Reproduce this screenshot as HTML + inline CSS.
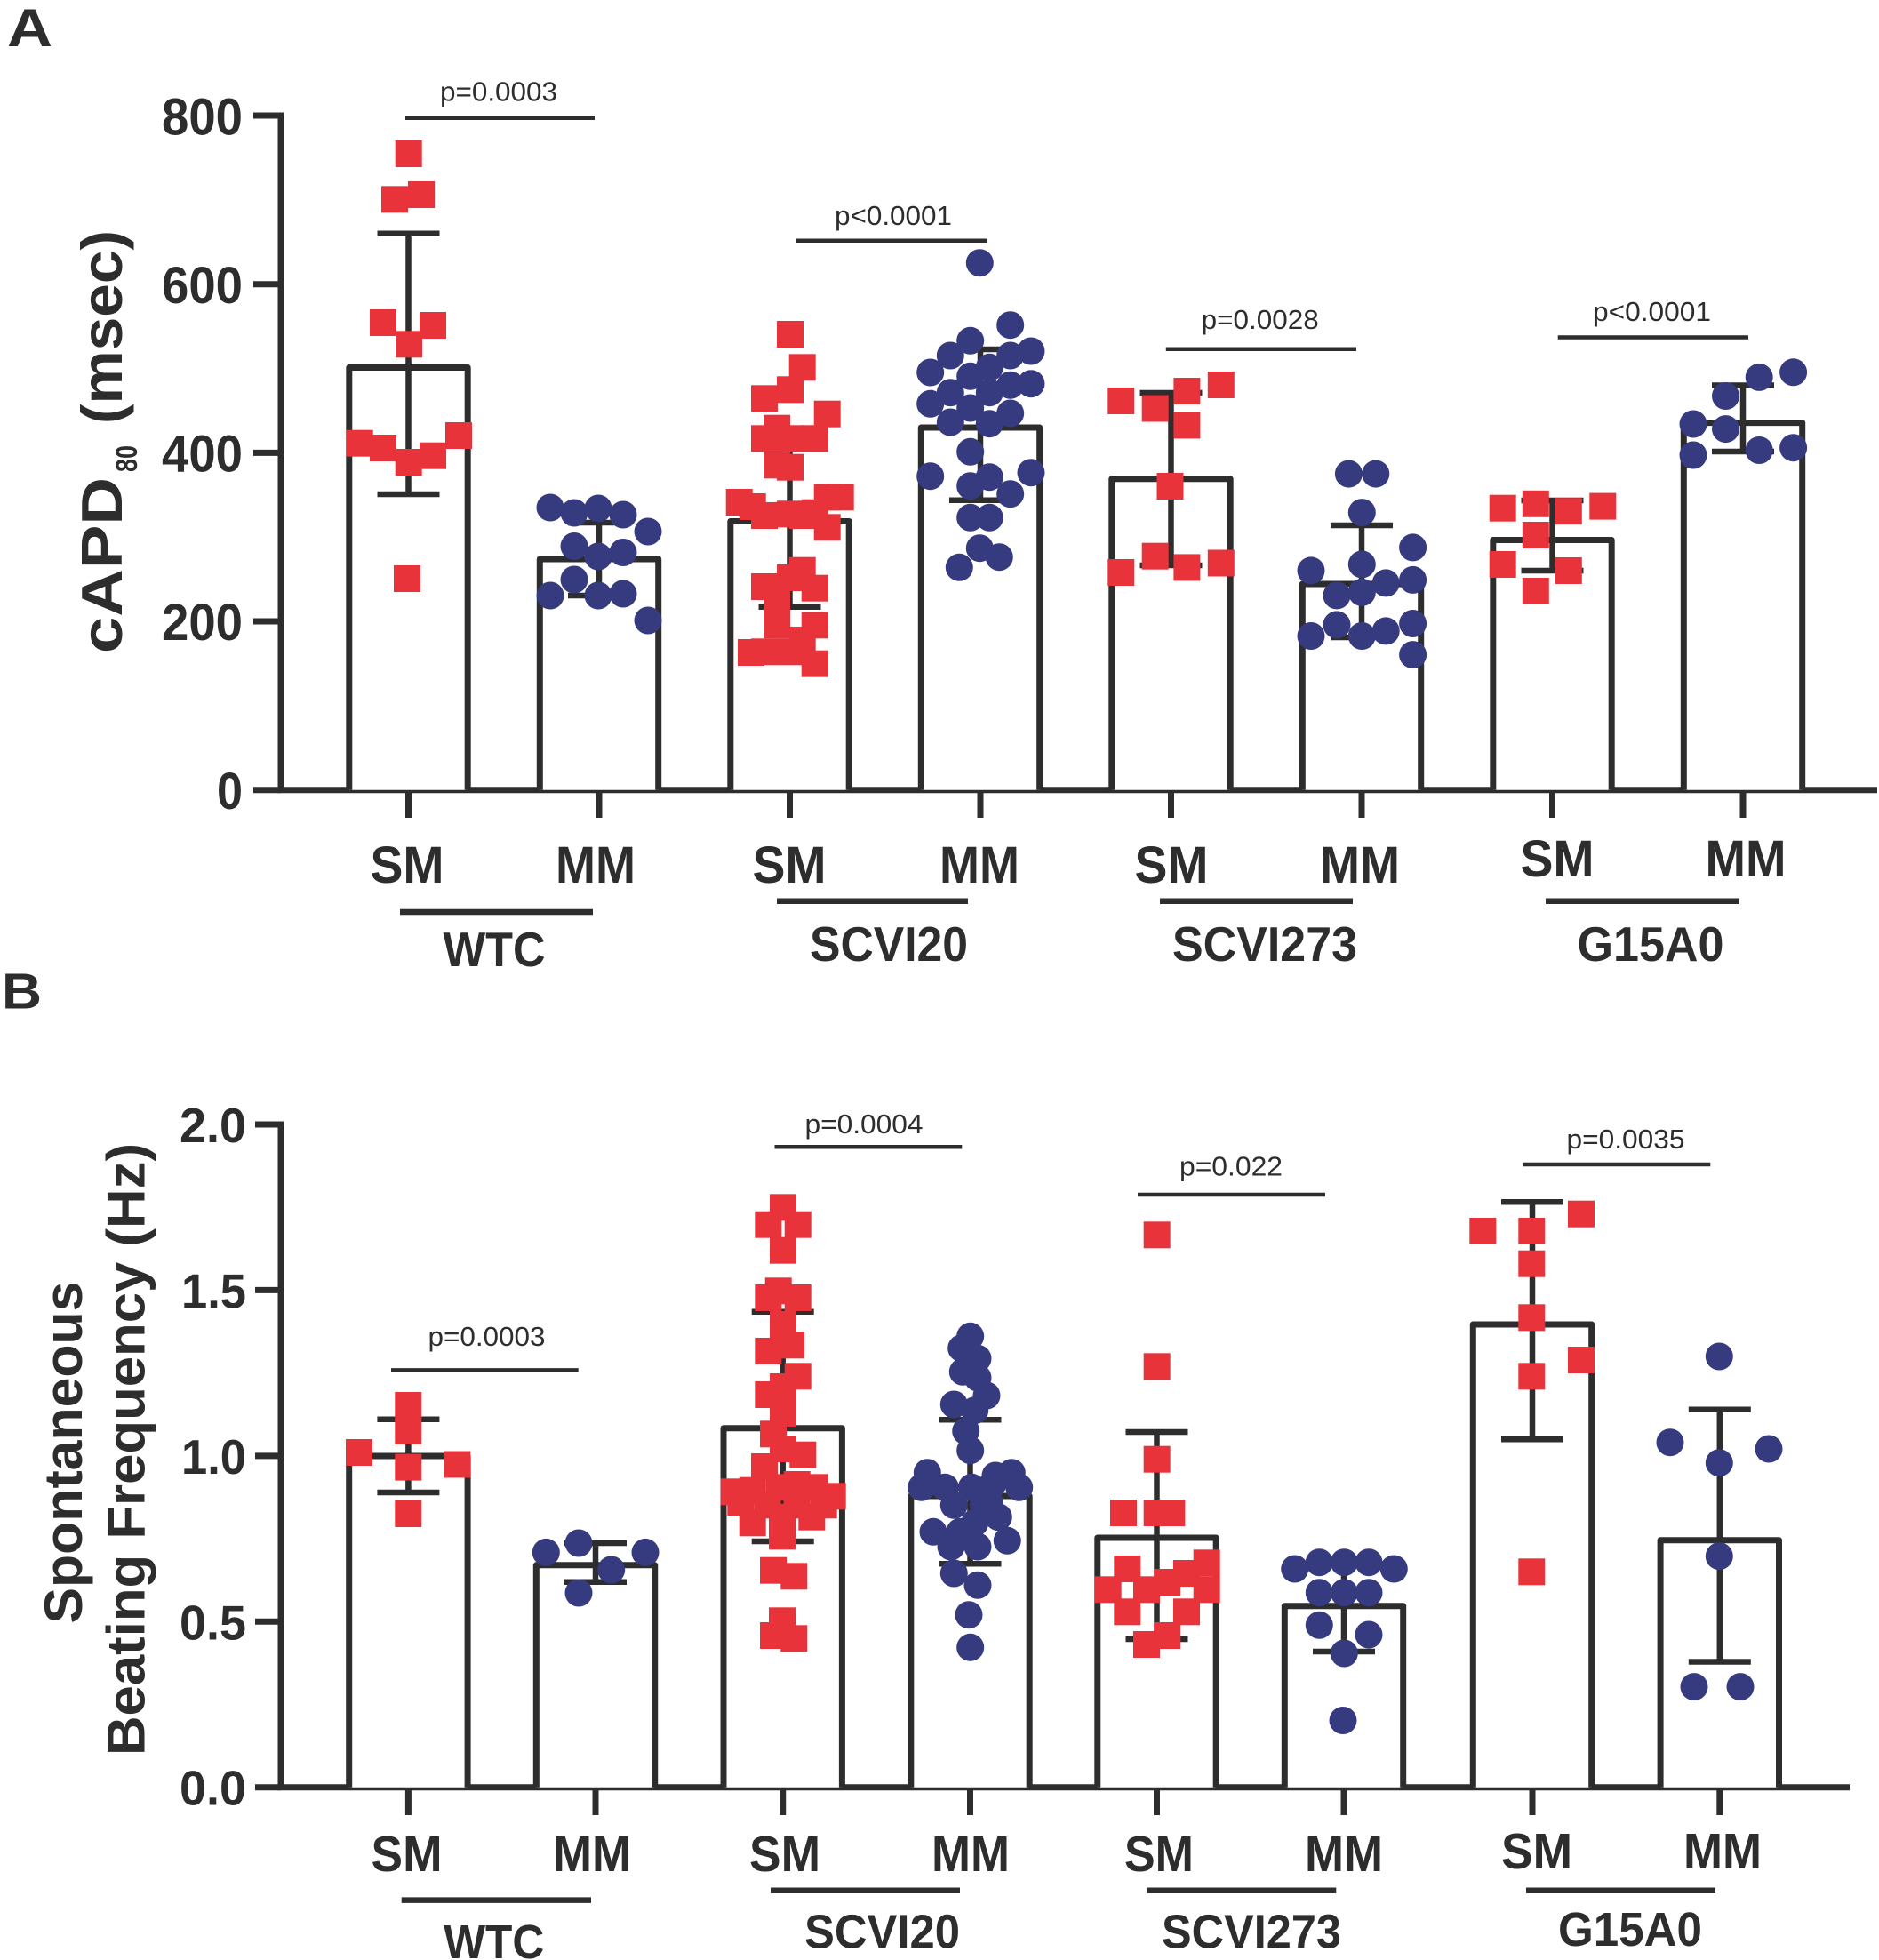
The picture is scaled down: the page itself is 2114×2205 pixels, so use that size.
<!DOCTYPE html>
<html><head><meta charset="utf-8"><style>
html,body{margin:0;padding:0;background:#fff;}
svg{display:block;}
.t{font-family:"Liberation Sans",Arial,sans-serif;font-weight:bold;fill:#2d2d2d;}
.p{font-family:"Liberation Sans",Arial,sans-serif;font-weight:normal;fill:#2d2d2d;font-size:31px;}
</style></head><body>
<svg width="2114" height="2205" viewBox="0 0 2114 2205" xmlns="http://www.w3.org/2000/svg">
<defs>
<rect id="s" x="-15" y="-15" width="30" height="30" fill="#e8333a"/>
<circle id="c" r="15.5" fill="#363a7e"/>
</defs>
<rect width="2114" height="2205" fill="#fff"/>

<!-- ================= PANEL A ================= -->
<text class="t" x="8" y="52" font-size="60" textLength="51" lengthAdjust="spacingAndGlyphs">A</text>

<g stroke="#2d2d2d" stroke-width="7" fill="none">
<line x1="316" y1="126.5" x2="316" y2="892"/>
<line x1="285" y1="130" x2="316" y2="130"/>
<line x1="285" y1="319.7" x2="316" y2="319.7"/>
<line x1="285" y1="509.4" x2="316" y2="509.4"/>
<line x1="285" y1="699" x2="316" y2="699"/>
<line x1="285" y1="888.7" x2="316" y2="888.7"/>
<line x1="312.5" y1="888.7" x2="2112" y2="888.7"/>
<line x1="459.5" y1="888" x2="459.5" y2="920"/>
<line x1="674" y1="888" x2="674" y2="920"/>
<line x1="888.5" y1="888" x2="888.5" y2="920"/>
<line x1="1103" y1="888" x2="1103" y2="920"/>
<line x1="1317.5" y1="888" x2="1317.5" y2="920"/>
<line x1="1532" y1="888" x2="1532" y2="920"/>
<line x1="1746.5" y1="888" x2="1746.5" y2="920"/>
<line x1="1961" y1="888" x2="1961" y2="920"/>
</g>

<g stroke="#2d2d2d" stroke-width="7" fill="#fff" stroke-linejoin="round">
<path d="M392.8 888.7 V413.5 H526.2 V888.7"/>
<path d="M607.3 888.7 V629 H740.7 V888.7"/>
<path d="M821.8 888.7 V586.5 H955.2 V888.7"/>
<path d="M1036.3 888.7 V481 H1169.7 V888.7"/>
<path d="M1250.8 888.7 V538.8 H1384.2 V888.7"/>
<path d="M1465.3 888.7 V657 H1598.7 V888.7"/>
<path d="M1679.8 888.7 V607.5 H1813.2 V888.7"/>
<path d="M1894.3 888.7 V475.6 H2027.7 V888.7"/>
</g>
<g stroke="#2d2d2d" stroke-width="6.5" fill="none">
<path d="M459.5 262.7 V556 M424.5 262.7 H494.5 M424.5 556 H494.5"/>
<path d="M674 588 V670 M639 588 H709 M639 670 H709"/>
<path d="M888.5 487 V682.7 M853.5 487 H923.5 M853.5 682.7 H923.5"/>
<path d="M1103 393 V562.7 M1068 393 H1138 M1068 562.7 H1138"/>
<path d="M1317.5 442 V636 M1282.5 442 H1352.5 M1282.5 636 H1352.5"/>
<path d="M1532 591 V717 M1497 591 H1567 M1497 717 H1567"/>
<path d="M1746.5 563 V642 M1711.5 563 H1781.5 M1711.5 642 H1781.5"/>
<path d="M1961 433.5 V508 M1926 433.5 H1996 M1926 508 H1996"/>
</g>

<g>
<use href="#s" x="459.7" y="173"/><use href="#s" x="444" y="224.3"/><use href="#s" x="474" y="219"/>
<use href="#s" x="431" y="363"/><use href="#s" x="487" y="366"/><use href="#s" x="460" y="387.3"/>
<use href="#s" x="404.7" y="498.7"/><use href="#s" x="431" y="504"/><use href="#s" x="459.7" y="520"/>
<use href="#s" x="487" y="512.7"/><use href="#s" x="516" y="490"/><use href="#s" x="458" y="651"/>

<use href="#c" x="619" y="571"/><use href="#c" x="646" y="577"/><use href="#c" x="673" y="572"/>
<use href="#c" x="701" y="579"/><use href="#c" x="729" y="598"/><use href="#c" x="646" y="614.5"/>
<use href="#c" x="673" y="626"/><use href="#c" x="701" y="621.5"/><use href="#c" x="619" y="670"/>
<use href="#c" x="646" y="652"/><use href="#c" x="673" y="670"/><use href="#c" x="701" y="668"/>
<use href="#c" x="729" y="698"/>

<use href="#s" x="889" y="376"/><use href="#s" x="902.7" y="413.3"/><use href="#s" x="889" y="438.3"/>
<use href="#s" x="860" y="448.3"/><use href="#s" x="930.7" y="465.7"/><use href="#s" x="874" y="481.7"/>
<use href="#s" x="860" y="493.3"/><use href="#s" x="916.7" y="493.3"/><use href="#s" x="889" y="493.3"/>
<use href="#s" x="874" y="523.3"/><use href="#s" x="889" y="525.7"/><use href="#s" x="831.7" y="565"/>
<use href="#s" x="860" y="580"/><use href="#s" x="889" y="578.3"/><use href="#s" x="916.7" y="576.7"/>
<use href="#s" x="930.7" y="559.3"/><use href="#s" x="945.7" y="559.3"/><use href="#s" x="930.7" y="593.3"/>
<use href="#s" x="902.7" y="580"/><use href="#s" x="846.7" y="570"/>
<use href="#s" x="902.7" y="641.7"/><use href="#s" x="860" y="660"/><use href="#s" x="916.7" y="661.7"/>
<use href="#s" x="889" y="650"/><use href="#s" x="874" y="703.3"/><use href="#s" x="916.7" y="703.3"/>
<use href="#s" x="860" y="733.3"/><use href="#s" x="889" y="733.3"/><use href="#s" x="916.7" y="746.7"/>
<use href="#s" x="902.7" y="720"/><use href="#s" x="874" y="676.7"/><use href="#s" x="845" y="734"/>

<use href="#c" x="1102.3" y="295.7"/><use href="#c" x="1136.7" y="365.7"/><use href="#c" x="1091.7" y="383.3"/>
<use href="#c" x="1160" y="395"/><use href="#c" x="1069.3" y="400"/><use href="#c" x="1136.7" y="400"/>
<use href="#c" x="1046.7" y="419"/><use href="#c" x="1091.7" y="423.3"/><use href="#c" x="1113.3" y="413.3"/>
<use href="#c" x="1160" y="431.7"/><use href="#c" x="1069.3" y="441.7"/><use href="#c" x="1113.3" y="441.7"/>
<use href="#c" x="1136.7" y="433.3"/><use href="#c" x="1046.7" y="454.3"/><use href="#c" x="1091.7" y="459"/>
<use href="#c" x="1136.7" y="465"/><use href="#c" x="1069.3" y="475"/><use href="#c" x="1113.3" y="476.7"/>
<use href="#c" x="1091.7" y="508.3"/><use href="#c" x="1046.7" y="535.7"/><use href="#c" x="1160" y="531.7"/>
<use href="#c" x="1113.3" y="536.7"/><use href="#c" x="1091.7" y="546.7"/><use href="#c" x="1136.7" y="555.7"/>
<use href="#c" x="1091.7" y="582.3"/><use href="#c" x="1113.3" y="582.3"/><use href="#c" x="1102.3" y="616.7"/>
<use href="#c" x="1124.3" y="626.7"/><use href="#c" x="1079.3" y="638.3"/>

<use href="#s" x="1261.3" y="451"/><use href="#s" x="1299.7" y="459.5"/><use href="#s" x="1335.4" y="440"/>
<use href="#s" x="1373.8" y="433"/><use href="#s" x="1335.4" y="478.4"/><use href="#s" x="1316.5" y="547"/>
<use href="#s" x="1261.3" y="644"/><use href="#s" x="1299.7" y="625.7"/><use href="#s" x="1335.4" y="638.4"/>
<use href="#s" x="1373.8" y="633.5"/>

<use href="#c" x="1517.4" y="533.1"/><use href="#c" x="1547.8" y="533.1"/><use href="#c" x="1532.3" y="576.6"/>
<use href="#c" x="1475" y="641.9"/><use href="#c" x="1532.3" y="634.9"/><use href="#c" x="1589.6" y="615.9"/>
<use href="#c" x="1504" y="669.9"/><use href="#c" x="1559.2" y="655.9"/><use href="#c" x="1589.6" y="652.4"/>
<use href="#c" x="1532.3" y="666.4"/><use href="#c" x="1475" y="715.5"/><use href="#c" x="1504" y="702.9"/>
<use href="#c" x="1532.3" y="715.5"/><use href="#c" x="1559.2" y="709.9"/><use href="#c" x="1589.6" y="701.5"/>
<use href="#c" x="1589.6" y="736.6"/>

<use href="#s" x="1690.7" y="571.7"/><use href="#s" x="1727.8" y="566.8"/><use href="#s" x="1764.8" y="575.2"/>
<use href="#s" x="1803.3" y="569.6"/><use href="#s" x="1727.8" y="602"/><use href="#s" x="1690.7" y="635"/>
<use href="#s" x="1764.8" y="642"/><use href="#s" x="1727.8" y="665"/>

<use href="#c" x="1941.5" y="445.5"/><use href="#c" x="1979.2" y="424.4"/><use href="#c" x="2017.6" y="418.8"/>
<use href="#c" x="1905" y="477"/><use href="#c" x="1941.5" y="482.6"/><use href="#c" x="1905" y="512"/>
<use href="#c" x="1979.2" y="506.5"/><use href="#c" x="2017.6" y="503.7"/>
</g>

<g stroke="#2d2d2d" stroke-width="4.5">
<line x1="456" y1="132.7" x2="669" y2="132.7"/>
<line x1="896" y1="270.7" x2="1110.7" y2="270.7"/>
<line x1="1311.8" y1="392.8" x2="1526" y2="392.8"/>
<line x1="1752.7" y1="379.5" x2="1967" y2="379.5"/>
</g>
<text class="p" x="561" y="113.5" text-anchor="middle" textLength="132" lengthAdjust="spacingAndGlyphs">p=0.0003</text>
<text class="p" x="1005" y="253" text-anchor="middle" textLength="132" lengthAdjust="spacingAndGlyphs">p&lt;0.0001</text>
<text class="p" x="1417.7" y="370" text-anchor="middle" textLength="132" lengthAdjust="spacingAndGlyphs">p=0.0028</text>
<text class="p" x="1858.5" y="361" text-anchor="middle" textLength="133" lengthAdjust="spacingAndGlyphs">p&lt;0.0001</text>

<g class="t" font-size="58" text-anchor="end">
<text x="273" y="151.5" textLength="91" lengthAdjust="spacingAndGlyphs">800</text>
<text x="273" y="341" textLength="91" lengthAdjust="spacingAndGlyphs">600</text>
<text x="273" y="530.5" textLength="91" lengthAdjust="spacingAndGlyphs">400</text>
<text x="273" y="720" textLength="91" lengthAdjust="spacingAndGlyphs">200</text>
<text x="273" y="910" textLength="29" lengthAdjust="spacingAndGlyphs">0</text>
</g>

<g class="t" transform="rotate(-90)">
<text x="-735" y="137" font-size="65" textLength="198" lengthAdjust="spacingAndGlyphs">cAPD</text>
<text x="-531" y="154" font-size="34" textLength="30" lengthAdjust="spacingAndGlyphs">80</text>
<text x="-477" y="137" font-size="65" textLength="218" lengthAdjust="spacingAndGlyphs">(msec)</text>
</g>

<g class="t" font-size="58" text-anchor="middle">
<text x="458" y="993" textLength="83" lengthAdjust="spacingAndGlyphs">SM</text>
<text x="670" y="993" textLength="90" lengthAdjust="spacingAndGlyphs">MM</text>
<text x="888" y="993" textLength="83" lengthAdjust="spacingAndGlyphs">SM</text>
<text x="1102" y="993" textLength="90" lengthAdjust="spacingAndGlyphs">MM</text>
<text x="1318" y="993" textLength="83" lengthAdjust="spacingAndGlyphs">SM</text>
<text x="1530" y="993" textLength="90" lengthAdjust="spacingAndGlyphs">MM</text>
<text x="1752" y="986" textLength="83" lengthAdjust="spacingAndGlyphs">SM</text>
<text x="1964" y="986" textLength="91" lengthAdjust="spacingAndGlyphs">MM</text>
</g>
<g stroke="#2d2d2d" stroke-width="6.5">
<line x1="450" y1="1026" x2="667" y2="1026"/>
<line x1="874" y1="1013.7" x2="1089" y2="1013.7"/>
<line x1="1305" y1="1013.7" x2="1522" y2="1013.7"/>
<line x1="1739" y1="1013.7" x2="1957" y2="1013.7"/>
</g>
<g class="t" font-size="55" text-anchor="middle">
<text x="556" y="1087" textLength="115" lengthAdjust="spacingAndGlyphs">WTC</text>
<text x="1000" y="1081" textLength="178" lengthAdjust="spacingAndGlyphs">SCVI20</text>
<text x="1423" y="1081" textLength="208" lengthAdjust="spacingAndGlyphs">SCVI273</text>
<text x="1857" y="1081" textLength="165" lengthAdjust="spacingAndGlyphs">G15A0</text>
</g>

<!-- ================= PANEL B ================= -->
<text class="t" x="2" y="1134.6" font-size="57" textLength="45" lengthAdjust="spacingAndGlyphs">B</text>

<g stroke="#2d2d2d" stroke-width="7" fill="none">
<line x1="316" y1="1261.5" x2="316" y2="2014"/>
<line x1="287" y1="1265" x2="316" y2="1265"/>
<line x1="287" y1="1451.4" x2="316" y2="1451.4"/>
<line x1="287" y1="1637.9" x2="316" y2="1637.9"/>
<line x1="287" y1="1824.3" x2="316" y2="1824.3"/>
<line x1="287" y1="2010.7" x2="316" y2="2010.7"/>
<line x1="312.5" y1="2010.7" x2="2081" y2="2010.7"/>
<line x1="459.4" y1="2010" x2="459.4" y2="2042"/>
<line x1="670" y1="2010" x2="670" y2="2042"/>
<line x1="880.7" y1="2010" x2="880.7" y2="2042"/>
<line x1="1091.5" y1="2010" x2="1091.5" y2="2042"/>
<line x1="1301.5" y1="2010" x2="1301.5" y2="2042"/>
<line x1="1512" y1="2010" x2="1512" y2="2042"/>
<line x1="1724" y1="2010" x2="1724" y2="2042"/>
<line x1="1934.8" y1="2010" x2="1934.8" y2="2042"/>
</g>

<g stroke="#2d2d2d" stroke-width="7" fill="#fff" stroke-linejoin="round">
<path d="M392.7 2010.7 V1638 H526.1 V2010.7"/>
<path d="M603.3 2010.7 V1760.8 H736.7 V2010.7"/>
<path d="M814 2010.7 V1606.7 H947.4 V2010.7"/>
<path d="M1024.8 2010.7 V1683 H1158.2 V2010.7"/>
<path d="M1234.8 2010.7 V1730 H1368.2 V2010.7"/>
<path d="M1445.3 2010.7 V1806.7 H1578.7 V2010.7"/>
<path d="M1657.3 2010.7 V1490 H1790.7 V2010.7"/>
<path d="M1868.1 2010.7 V1732.7 H2001.5 V2010.7"/>
</g>
<g stroke="#2d2d2d" stroke-width="6.5" fill="none">
<path d="M459.4 1596.7 V1679 M424.4 1596.7 H494.4 M424.4 1679 H494.4"/>
<path d="M670 1736 V1779.7 M635 1736 H705 M635 1779.7 H705"/>
<path d="M880.7 1475.7 V1734 M845.7 1475.7 H915.7 M845.7 1734 H915.7"/>
<path d="M1091.5 1597.3 V1759.3 M1056.5 1597.3 H1126.5 M1056.5 1759.3 H1126.5"/>
<path d="M1301.5 1611 V1844 M1266.5 1611 H1336.5 M1266.5 1844 H1336.5"/>
<path d="M1512 1755 V1858 M1477 1755 H1547 M1477 1858 H1547"/>
<path d="M1724 1352.3 V1619.3 M1689 1352.3 H1759 M1689 1619.3 H1759"/>
<path d="M1934.8 1585.7 V1869.5 M1899.8 1585.7 H1969.8 M1899.8 1869.5 H1969.8"/>
</g>

<g>
<use href="#s" x="459.3" y="1581"/><use href="#s" x="459.3" y="1610"/><use href="#s" x="404" y="1634"/>
<use href="#s" x="459.3" y="1650.6"/><use href="#s" x="514.3" y="1647.5"/><use href="#s" x="459.3" y="1703"/>

<use href="#c" x="614.3" y="1746.4"/><use href="#c" x="651" y="1736"/><use href="#c" x="726" y="1746.4"/>
<use href="#c" x="687.7" y="1766"/><use href="#c" x="651" y="1792"/>

<use href="#s" x="881" y="1358.3"/><use href="#s" x="864.3" y="1377.7"/><use href="#s" x="897.7" y="1377.7"/>
<use href="#s" x="881" y="1406.7"/><use href="#s" x="875.7" y="1452.3"/><use href="#s" x="897.7" y="1460"/>
<use href="#s" x="864.3" y="1460"/><use href="#s" x="881" y="1490"/><use href="#s" x="864.3" y="1520"/>
<use href="#s" x="890" y="1513.3"/><use href="#s" x="897.7" y="1548.3"/><use href="#s" x="864.3" y="1569"/>
<use href="#s" x="881" y="1560"/><use href="#s" x="881" y="1590"/><use href="#s" x="870" y="1613.3"/>
<use href="#s" x="903.3" y="1636.7"/><use href="#s" x="860" y="1650"/><use href="#s" x="881" y="1630"/>
<use href="#s" x="825.7" y="1678.3"/><use href="#s" x="846.7" y="1676.7"/><use href="#s" x="876.7" y="1673.3"/>
<use href="#s" x="936.7" y="1683.3"/><use href="#s" x="916.7" y="1673.3"/><use href="#s" x="896.7" y="1670"/>
<use href="#s" x="846.7" y="1713.3"/><use href="#s" x="880" y="1706.7"/><use href="#s" x="913.3" y="1706.7"/>
<use href="#s" x="880" y="1728.3"/><use href="#s" x="870" y="1766.7"/><use href="#s" x="893.3" y="1773.3"/>
<use href="#s" x="880" y="1823.3"/><use href="#s" x="870" y="1840"/><use href="#s" x="893.3" y="1843.3"/>
<use href="#s" x="833.3" y="1690"/><use href="#s" x="926.7" y="1693.3"/><use href="#s" x="863.3" y="1693.3"/>
<use href="#s" x="896.7" y="1693.3"/>

<use href="#c" x="1091.7" y="1503.3"/><use href="#c" x="1081.7" y="1516.7"/><use href="#c" x="1100" y="1528.3"/>
<use href="#c" x="1083.3" y="1543.3"/><use href="#c" x="1100" y="1550"/><use href="#c" x="1110" y="1570"/>
<use href="#c" x="1073.3" y="1580"/><use href="#c" x="1096.7" y="1586.7"/><use href="#c" x="1086.7" y="1610"/>
<use href="#c" x="1091.7" y="1631.7"/><use href="#c" x="1043.3" y="1656.7"/><use href="#c" x="1138.3" y="1656.7"/>
<use href="#c" x="1036.7" y="1673.3"/><use href="#c" x="1146.7" y="1673.3"/><use href="#c" x="1063.3" y="1673.3"/>
<use href="#c" x="1093.3" y="1673.3"/><use href="#c" x="1116.7" y="1670"/><use href="#c" x="1073.3" y="1693.3"/>
<use href="#c" x="1123.3" y="1706.7"/><use href="#c" x="1050" y="1723.3"/><use href="#c" x="1096.7" y="1713.3"/>
<use href="#c" x="1133.3" y="1733.3"/><use href="#c" x="1070" y="1740"/><use href="#c" x="1100" y="1740"/>
<use href="#c" x="1073.3" y="1770"/><use href="#c" x="1100" y="1783.3"/><use href="#c" x="1090" y="1816.7"/>
<use href="#c" x="1091.7" y="1853.3"/><use href="#c" x="1113.3" y="1690"/><use href="#c" x="1080" y="1723.3"/>
<use href="#c" x="1106.7" y="1693.3"/><use href="#c" x="1120" y="1660"/>

<use href="#s" x="1301.7" y="1389.3"/><use href="#s" x="1301.7" y="1537.3"/><use href="#s" x="1301.7" y="1641.7"/>
<use href="#s" x="1264" y="1702"/><use href="#s" x="1301.7" y="1702"/><use href="#s" x="1318.3" y="1702"/>
<use href="#s" x="1268.3" y="1765"/><use href="#s" x="1246.7" y="1788.3"/><use href="#s" x="1290" y="1788.3"/>
<use href="#s" x="1313.3" y="1780"/><use href="#s" x="1335" y="1770"/><use href="#s" x="1357.7" y="1758.3"/>
<use href="#s" x="1357.7" y="1788.3"/><use href="#s" x="1268.3" y="1813.3"/><use href="#s" x="1335" y="1813.3"/>
<use href="#s" x="1313.3" y="1840"/><use href="#s" x="1290" y="1850"/>

<use href="#c" x="1456.7" y="1765"/><use href="#c" x="1484.3" y="1757.7"/><use href="#c" x="1512.3" y="1757.7"/>
<use href="#c" x="1540" y="1757.7"/><use href="#c" x="1568.3" y="1765"/><use href="#c" x="1484.3" y="1791.7"/>
<use href="#c" x="1512.3" y="1791.7"/><use href="#c" x="1540" y="1791.7"/><use href="#c" x="1484.3" y="1828.3"/>
<use href="#c" x="1540" y="1839"/><use href="#c" x="1512.3" y="1860"/><use href="#c" x="1511" y="1935.5"/>

<use href="#s" x="1668.3" y="1385"/><use href="#s" x="1723.3" y="1385"/><use href="#s" x="1779" y="1365.7"/>
<use href="#s" x="1723.3" y="1421.7"/><use href="#s" x="1723.3" y="1482.3"/><use href="#s" x="1779" y="1530"/>
<use href="#s" x="1723.3" y="1548.3"/><use href="#s" x="1723.3" y="1768.3"/>

<use href="#c" x="1934.3" y="1526"/><use href="#c" x="1879" y="1622.7"/><use href="#c" x="1990" y="1630"/>
<use href="#c" x="1934.3" y="1645.7"/><use href="#c" x="1934.3" y="1750.7"/><use href="#c" x="1906" y="1897.6"/>
<use href="#c" x="1958" y="1897.6"/>
</g>

<g stroke="#2d2d2d" stroke-width="4.5">
<line x1="440" y1="1541.4" x2="650.7" y2="1541.4"/>
<line x1="871.5" y1="1290.3" x2="1082.3" y2="1290.3"/>
<line x1="1280" y1="1344" x2="1491" y2="1344"/>
<line x1="1713.3" y1="1310" x2="1924.3" y2="1310"/>
</g>
<text class="p" x="547.5" y="1514" text-anchor="middle" textLength="132" lengthAdjust="spacingAndGlyphs">p=0.0003</text>
<text class="p" x="972" y="1275" text-anchor="middle" textLength="133" lengthAdjust="spacingAndGlyphs">p=0.0004</text>
<text class="p" x="1385" y="1322.7" text-anchor="middle" textLength="116" lengthAdjust="spacingAndGlyphs">p=0.022</text>
<text class="p" x="1829" y="1292" text-anchor="middle" textLength="133" lengthAdjust="spacingAndGlyphs">p=0.0035</text>

<g class="t" font-size="55" text-anchor="end">
<text x="277" y="1285" textLength="75" lengthAdjust="spacingAndGlyphs">2.0</text>
<text x="277" y="1471.4" textLength="73" lengthAdjust="spacingAndGlyphs">1.5</text>
<text x="277" y="1657.9" textLength="73" lengthAdjust="spacingAndGlyphs">1.0</text>
<text x="277" y="1844.3" textLength="75" lengthAdjust="spacingAndGlyphs">0.5</text>
<text x="277" y="2030.7" textLength="75" lengthAdjust="spacingAndGlyphs">0.0</text>
</g>

<g class="t" font-size="60" transform="rotate(-90)" text-anchor="middle">
<text x="-1634" y="92" textLength="385" lengthAdjust="spacingAndGlyphs">Spontaneous</text>
<text x="-1630.5" y="162.5" textLength="689" lengthAdjust="spacingAndGlyphs">Beating Frequency (Hz)</text>
</g>

<g class="t" font-size="57" text-anchor="middle">
<text x="457.5" y="2105" textLength="80" lengthAdjust="spacingAndGlyphs">SM</text>
<text x="666" y="2105" textLength="88" lengthAdjust="spacingAndGlyphs">MM</text>
<text x="883" y="2105" textLength="80" lengthAdjust="spacingAndGlyphs">SM</text>
<text x="1092" y="2105" textLength="88" lengthAdjust="spacingAndGlyphs">MM</text>
<text x="1304" y="2105" textLength="78" lengthAdjust="spacingAndGlyphs">SM</text>
<text x="1512" y="2105" textLength="88" lengthAdjust="spacingAndGlyphs">MM</text>
<text x="1729" y="2102" textLength="80" lengthAdjust="spacingAndGlyphs">SM</text>
<text x="1938" y="2102" textLength="88" lengthAdjust="spacingAndGlyphs">MM</text>
</g>
<g stroke="#2d2d2d" stroke-width="6.5">
<line x1="451.7" y1="2137.6" x2="665" y2="2137.6"/>
<line x1="867" y1="2126.7" x2="1080" y2="2126.7"/>
<line x1="1290.4" y1="2126.7" x2="1503.3" y2="2126.7"/>
<line x1="1717" y1="2126.7" x2="1930" y2="2126.7"/>
</g>
<g class="t" font-size="54" text-anchor="middle">
<text x="555.7" y="2203" textLength="113" lengthAdjust="spacingAndGlyphs">WTC</text>
<text x="992.5" y="2191.5" textLength="175" lengthAdjust="spacingAndGlyphs">SCVI20</text>
<text x="1408" y="2191.5" textLength="202" lengthAdjust="spacingAndGlyphs">SCVI273</text>
<text x="1834" y="2189" textLength="162" lengthAdjust="spacingAndGlyphs">G15A0</text>
</g>
</svg>
</body></html>
